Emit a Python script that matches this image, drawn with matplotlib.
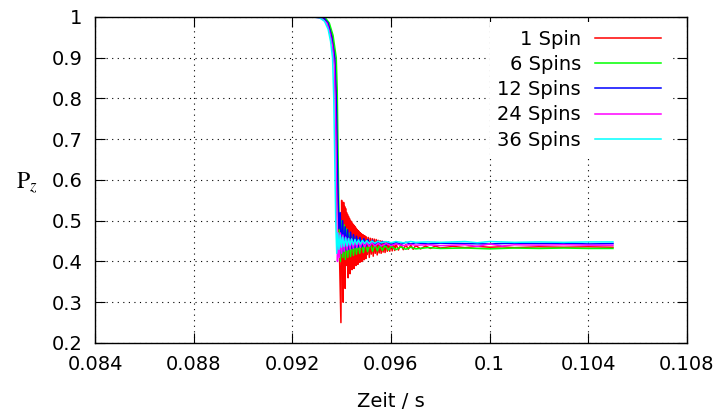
import numpy as np
import matplotlib
matplotlib.use("Agg")
import matplotlib.pyplot as plt

# Werte: (Zeit / s, P_z)
spin_1 = [
    (0.0840, 1.0), (0.0930, 1.0), (0.09325, 0.997), (0.09345, 0.985), (0.0936, 0.96),
    (0.0937, 0.92), (0.09378, 0.82), (0.09385, 0.55), (0.09391, 0.42), (0.09397, 0.25),
    (0.09400, 0.55), (0.09402, 0.42), (0.09404, 0.54), (0.09406, 0.30), (0.09408, 0.545),
    (0.09410, 0.40), (0.09412, 0.535), (0.09414, 0.334), (0.09416, 0.53), (0.09418, 0.40),
    (0.09420, 0.52), (0.09422, 0.39), (0.09424, 0.515), (0.09426, 0.36), (0.09428, 0.51),
    (0.09430, 0.395), (0.09432, 0.505), (0.09434, 0.37), (0.09436, 0.50), (0.09438, 0.40),
    (0.09440, 0.497), (0.09442, 0.38), (0.09444, 0.493), (0.09446, 0.405), (0.09448, 0.49),
    (0.09450, 0.383), (0.09452, 0.487), (0.09454, 0.405), (0.09456, 0.484), (0.09458, 0.39),
    (0.09460, 0.48), (0.09462, 0.41), (0.09464, 0.477), (0.09466, 0.393), (0.09468, 0.475),
    (0.09470, 0.41), (0.09472, 0.472), (0.09474, 0.398), (0.09476, 0.47), (0.09478, 0.412),
    (0.09480, 0.468), (0.09482, 0.40), (0.09484, 0.466), (0.09486, 0.414), (0.09488, 0.465),
    (0.09490, 0.404), (0.09492, 0.463), (0.09494, 0.415), (0.09496, 0.462), (0.09498, 0.407),
    (0.09500, 0.46), (0.09504, 0.417), (0.09508, 0.459), (0.09512, 0.41), (0.09516, 0.457),
    (0.09520, 0.418), (0.09524, 0.456), (0.09528, 0.413), (0.09532, 0.455), (0.09536, 0.42),
    (0.09540, 0.454), (0.09544, 0.416), (0.09548, 0.452), (0.09552, 0.421), (0.09556, 0.451),
    (0.09560, 0.42), (0.09564, 0.45), (0.09568, 0.423), (0.09572, 0.449), (0.09576, 0.422),
    (0.09580, 0.448), (0.09585, 0.425), (0.0959, 0.447), (0.09595, 0.425), (0.096, 0.446),
    (0.09605, 0.426), (0.0961, 0.445), (0.09615, 0.427), (0.0962, 0.443), (0.0963, 0.428),
    (0.0964, 0.442), (0.0965, 0.429), (0.0966, 0.441), (0.0967, 0.43), (0.0968, 0.44),
    (0.0969, 0.43), (0.0970, 0.439), (0.0972, 0.431), (0.0974, 0.438), (0.0976, 0.432),
    (0.0978, 0.438), (0.0980, 0.433), (0.0985, 0.437), (0.0990, 0.434), (0.0995, 0.437),
    (0.1000, 0.435), (0.1005, 0.436), (0.1010, 0.434), (0.1020, 0.436), (0.1030, 0.435),
    (0.1040, 0.436), (0.1050, 0.435),
]

spin_6 = [
    (0.0840, 1.0), (0.0931, 1.0), (0.09335, 0.997), (0.0935, 0.985), (0.09365, 0.955),
    (0.09378, 0.90), (0.09382, 0.82), (0.09387, 0.6), (0.09391, 0.45), (0.09395, 0.40),
    (0.094, 0.50), (0.09405, 0.41), (0.0941, 0.49), (0.09415, 0.405), (0.0942, 0.48),
    (0.09425, 0.41), (0.0943, 0.47), (0.09436, 0.412), (0.09442, 0.46), (0.09448, 0.415),
    (0.09454, 0.455), (0.0946, 0.418), (0.09466, 0.452), (0.09473, 0.42), (0.0948, 0.45),
    (0.09488, 0.422), (0.09496, 0.447), (0.09505, 0.424), (0.09515, 0.445), (0.09525, 0.425),
    (0.09535, 0.443), (0.09545, 0.426), (0.09555, 0.441), (0.09565, 0.427), (0.09575, 0.44),
    (0.0959, 0.428), (0.096, 0.438), (0.0962, 0.429), (0.0964, 0.436), (0.0966, 0.43),
    (0.0968, 0.435), (0.097, 0.431), (0.0975, 0.434), (0.098, 0.432), (0.099, 0.433),
    (0.100, 0.431), (0.101, 0.433), (0.102, 0.432), (0.103, 0.433), (0.104, 0.432),
    (0.105, 0.432),
]

spin_12 = [
    (0.0840, 1.0), (0.0930, 1.0), (0.0933, 0.996), (0.09345, 0.985), (0.0936, 0.95),
    (0.09372, 0.9), (0.09378, 0.8), (0.09384, 0.6), (0.09389, 0.48), (0.09394, 0.52),
    (0.09399, 0.42), (0.09404, 0.50), (0.09409, 0.425), (0.09414, 0.485), (0.09419, 0.428),
    (0.09424, 0.478), (0.0943, 0.43), (0.09436, 0.472), (0.09442, 0.432), (0.09448, 0.466),
    (0.09454, 0.434), (0.0946, 0.462), (0.09467, 0.435), (0.09474, 0.459), (0.09482, 0.436),
    (0.0949, 0.456), (0.09498, 0.437), (0.09506, 0.454), (0.09515, 0.438), (0.09525, 0.452),
    (0.09535, 0.439), (0.09545, 0.45), (0.09555, 0.44), (0.09565, 0.449), (0.0958, 0.44),
    (0.0959, 0.448), (0.096, 0.441), (0.0962, 0.447), (0.0964, 0.442), (0.0966, 0.447),
    (0.0968, 0.443), (0.097, 0.446), (0.0975, 0.443), (0.098, 0.445), (0.099, 0.444),
    (0.100, 0.443), (0.101, 0.445), (0.102, 0.444), (0.103, 0.445), (0.104, 0.443),
    (0.105, 0.444),
]

spin_24 = [
    (0.0840, 1.0), (0.0929, 1.0), (0.0932, 0.996), (0.0934, 0.985), (0.0935, 0.965),
    (0.09362, 0.93), (0.0937, 0.88), (0.09376, 0.72), (0.0938, 0.52), (0.09383, 0.40),
    (0.09387, 0.47), (0.09391, 0.41), (0.09395, 0.47), (0.094, 0.42), (0.09405, 0.465),
    (0.0941, 0.425), (0.09416, 0.46), (0.09422, 0.428), (0.09428, 0.457), (0.09434, 0.43),
    (0.0944, 0.455), (0.09447, 0.432), (0.09454, 0.452), (0.09461, 0.434), (0.09468, 0.45),
    (0.09476, 0.435), (0.09484, 0.449), (0.09493, 0.436), (0.09502, 0.447), (0.09512, 0.437),
    (0.09522, 0.446), (0.09535, 0.438), (0.09548, 0.445), (0.0956, 0.438), (0.0958, 0.444),
    (0.096, 0.439), (0.0962, 0.443), (0.0965, 0.439), (0.0968, 0.442), (0.097, 0.44),
    (0.0975, 0.441), (0.098, 0.439), (0.099, 0.441), (0.0995, 0.437), (0.100, 0.443),
    (0.1005, 0.438), (0.101, 0.441), (0.102, 0.44), (0.103, 0.441), (0.104, 0.44),
    (0.105, 0.44),
]

spin_36 = [
    (0.0840, 1.0), (0.0928, 1.0), (0.0931, 0.998), (0.0933, 0.99), (0.09345, 0.97),
    (0.09355, 0.94), (0.09363, 0.90), (0.09368, 0.8), (0.09372, 0.65), (0.09376, 0.5),
    (0.0938, 0.42), (0.09384, 0.47), (0.09389, 0.43), (0.09394, 0.465), (0.09399, 0.435),
    (0.09404, 0.46), (0.0941, 0.437), (0.09416, 0.458), (0.09422, 0.438), (0.09428, 0.456),
    (0.09434, 0.44), (0.0944, 0.455), (0.09447, 0.441), (0.09454, 0.454), (0.09461, 0.442),
    (0.09468, 0.453), (0.09476, 0.443), (0.09484, 0.452), (0.09493, 0.444), (0.09502, 0.451),
    (0.09512, 0.444), (0.09522, 0.45), (0.09535, 0.445), (0.09548, 0.45), (0.0956, 0.446),
    (0.0958, 0.449), (0.096, 0.446), (0.0962, 0.449), (0.0965, 0.446), (0.0968, 0.449),
    (0.097, 0.447), (0.0975, 0.448), (0.098, 0.447), (0.099, 0.449), (0.0995, 0.446),
    (0.100, 0.449), (0.101, 0.447), (0.102, 0.448), (0.103, 0.447), (0.104, 0.448),
    (0.105, 0.448),
]

labels = ["1 Spin", "6 Spins", "12 Spins", "24 Spins", "36 Spins"]
colors = ["#ff0000", "#00ff00", "#0000ff", "#ff00ff", "#00ffff"]
x_ticks = [0.084, 0.088, 0.092, 0.096, 0.1, 0.104, 0.108]
x_ticklabels = ["0.084", "0.088", "0.092", "0.096", "0.1", "0.104", "0.108"]
y_ticks = [0.2, 0.3, 0.4, 0.5, 0.6, 0.7, 0.8, 0.9, 1.0]
y_ticklabels = ["0.2", "0.3", "0.4", "0.5", "0.6", "0.7", "0.8", "0.9", "1"]

plt.rcParams["font.family"] = "DejaVu Sans"
plt.rcParams["font.size"] = 14
plt.rcParams["mathtext.fontset"] = "stix"

fig = plt.figure(figsize=(7.23, 4.16), dpi=100)
ax = fig.add_axes([0.1314, 0.1755, 0.8188, 0.7837])

for serie, lab, col in zip([spin_1, spin_6, spin_12, spin_24, spin_36], labels, colors):
    d = np.array(serie)
    ax.plot(d[:, 0], d[:, 1], color=col, lw=1.1, label=lab)

ax.set_xlim(0.084, 0.108)
ax.set_ylim(0.2, 1.0)
ax.set_xticks(x_ticks)
ax.set_xticklabels(x_ticklabels)
ax.set_yticks(y_ticks)
ax.set_yticklabels(y_ticklabels)
ax.tick_params(direction="in", length=7, width=0.8, top=True, right=True)
ax.tick_params(axis="y", pad=9)
ax.tick_params(axis="x", pad=9)
ax.grid(True, linestyle=(0, (1, 4)), color="black", linewidth=0.8)
ax.set_axisbelow(True)
for sp in ax.spines.values():
    sp.set_linewidth(1.0)

ax.set_xlabel("Zeit / s")
ax.xaxis.set_label_coords(0.5, -0.15)
ax.set_ylabel(r"$\mathrm{P}_z$", rotation=0, fontsize=17, va="center", ha="center")
ax.yaxis.set_label_coords(-0.115, 0.49)

leg = ax.legend(loc="upper right", bbox_to_anchor=(0.9696, 0.985), markerfirst=False,
                handlelength=3.4, handletextpad=0.72, labelspacing=0.32,
                borderpad=0.4, borderaxespad=0, fancybox=False, framealpha=1,
                edgecolor="none", facecolor="white")
for t in leg.get_texts():
    t.set_ha("right")
leg._legend_box.align = "right"

fig.savefig("out.png", dpi=100)
